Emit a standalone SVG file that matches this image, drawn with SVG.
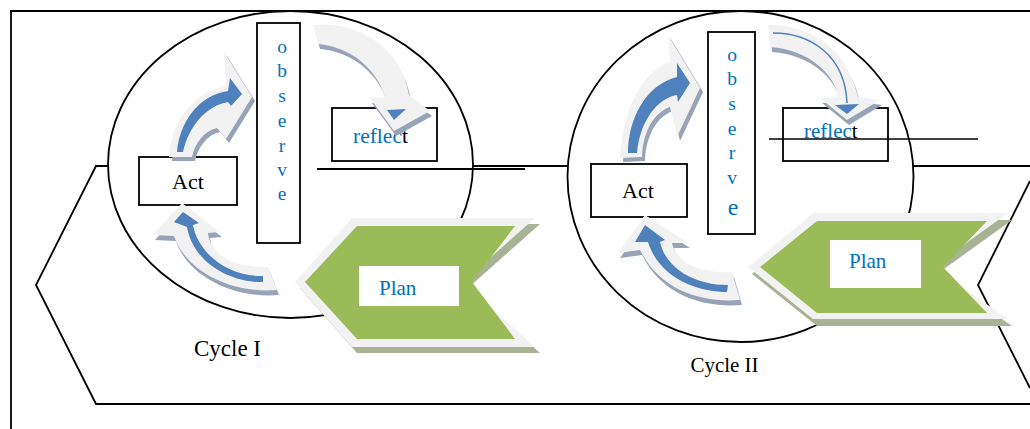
<svg xmlns="http://www.w3.org/2000/svg" xmlns:xlink="http://www.w3.org/1999/xlink" width="1030" height="429" viewBox="0 0 1030 429">
  <style>
    .ln { fill: none; stroke: #000; stroke-width: 1.8; }
    .thin { fill: none; stroke: #000; stroke-width: 1.5; }
    .ring { fill: #fff; stroke: #000; stroke-width: 1.8; }
    .box { fill: #fff; stroke: #000; stroke-width: 1.8; }
    .serif { font-family: "Liberation Serif", "Times New Roman", serif; }
    .blk { fill: #000; }
    .blu { fill: #0070c0; }
    .face { fill: #f2f2f2; }
    .shade { fill: #97a3b7; }
    .core { fill: #4f81bd; }
    .chev-shade { fill: #a8b294; }
    .chev-face { fill: #f2f2f2; }
    .chev-core { fill: #9bbb59; }
  </style>
  <defs>
    <!-- curved arrow outlines, cycle I -->
    <path id="a1" d="M169,157 C171,124 192,92 226,86 L224,52 L252,97 L226,139 L217,128 C204,131 195,143 192,157 Z"/>
    <path id="b1" d="M313,25 C352,21 400,42 409,95 L430,111 L394,131 L370,98 L385,97 C377,70 352,47 318,44 Z"/>
    <path id="c1" d="M268,267 L277,290 C230,294 185,270 174,236 L153,235 L182,203 L220,232 L208,233 C210,255 235,268 268,267 Z"/>
    <!-- curved arrow outlines, cycle II -->
    <path id="a2" d="M620,158 C622,115 640,72 670,62 L668,35 L700,88 L677,137 L670,107 C655,112 643,130 642,157 Z"/>
    <path id="b2" d="M768,25 C800,24 845,40 858,97 L880,100 L847,120 L820,98 L838,97 C835,75 810,50 770,47 Z"/>
    <path id="c2" d="M732,272 L740,300 C700,303 660,290 640,250 L618,253 L645,215 L688,243 L672,243 C676,262 700,274 732,272 Z"/>
  </defs>

  <!-- page frame -->
  <g id="frame">
    <line class="ln" x1="10" y1="11" x2="1030" y2="11"/>
    <line class="ln" x1="11" y1="10" x2="11" y2="429"/>
  </g>

  <!-- outer hexagonal band -->
  <g id="band">
    <polyline class="ln" points="1030,166 96,166 36,285 96,404 1030,404"/>
    <polyline class="ln" points="1030,181 978,285 1030,388"/>
  </g>

  <!-- cycle I -->
  <g id="cycle-1">
    <ellipse class="ring" cx="290.5" cy="164.5" rx="182.5" ry="153.5"/>
    <line class="ln" x1="317" y1="169" x2="525" y2="169"/>
  </g>

  <!-- cycle II -->
  <g id="cycle-2">
    <ellipse class="ring" cx="740.5" cy="176.5" rx="173" ry="165.5"/>
  </g>

  <g id="act-1">
    <rect class="box" x="139" y="157" width="98" height="48"/>
    <text class="serif blk" x="188" y="189" font-size="22" text-anchor="middle">Act</text>
  </g>
  <g id="observe-1">
    <rect class="box" x="257" y="23" width="43" height="220"/>
    <g class="serif blu" font-size="19.5" text-anchor="middle">
      <text x="282" y="53">o</text>
      <text x="282" y="77">b</text>
      <text x="282" y="102">s</text>
      <text x="282" y="127">e</text>
      <text x="282" y="152">r</text>
      <text x="282" y="176">v</text>
      <text x="282" y="200">e</text>
    </g>
  </g>
  <g id="reflect-1">
    <rect class="box" x="332" y="108" width="105" height="53"/>
    <text class="serif blu" x="353" y="143" font-size="21.5">reflec<tspan class="blk">t</tspan></text>
  </g>

  <g id="act-2">
    <rect class="box" x="591" y="164" width="96" height="53"/>
    <text class="serif blk" x="638" y="198" font-size="22" text-anchor="middle">Act</text>
  </g>
  <g id="observe-2">
    <rect class="box" x="708" y="32" width="47" height="202"/>
    <g class="serif blu" font-size="19.5" text-anchor="middle">
      <text x="732" y="61">o</text>
      <text x="732" y="85">b</text>
      <text x="732" y="110">s</text>
      <text x="732" y="135">e</text>
      <text x="732" y="159">r</text>
      <text x="732" y="184">v</text>
      <text x="733" y="215" font-size="24">e</text>
    </g>
  </g>
  <g id="reflect-2">
    <rect class="box" x="783" y="108" width="105" height="53"/>
    <text class="serif blu" x="804" y="138" font-size="21">reflec<tspan class="blk">t</tspan></text>
    <line class="thin" x1="769" y1="139" x2="978" y2="139"/>
  </g>

  <!-- cycle arrows -->
  <g id="connectors">
    <use href="#a1" class="shade" transform="translate(3,4)"/>
    <use href="#a1" class="face"/>
    <path class="core" d="M177,152 C180,120 200,95 228,91 L230,78 L242,94 L231,106 L228,102 C206,106 189,126 183,152 Z"/>

    <use href="#b1" class="shade" transform="translate(2,5)"/>
    <use href="#b1" class="face"/>
    <path class="core" d="M387,110 L406,109 L394,120 Z"/>

    <use href="#c1" class="shade" transform="translate(2,5)"/>
    <use href="#c1" class="face"/>
    <path class="core" d="M263,282 C230,283 193,262 187,227 L174,222 L183,212 L199,223 L193,225 C197,250 225,277 263,276 Z"/>

    <use href="#a2" class="shade" transform="translate(3,4)"/>
    <use href="#a2" class="face"/>
    <path class="core" d="M628,153 C628,120 645,85 677,77 L677,63 L690,83 L678,102 L677,95 C658,98 640,120 637,153 Z"/>

    <use href="#b2" class="shade" transform="translate(2,5)"/>
    <use href="#b2" class="face"/>
    <path d="M773,33 C810,33 845,55 847,103" fill="none" stroke="#4f81bd" stroke-width="1.5"/>
    <path class="core" d="M835,105 L859,104 L847,114 Z"/>

    <use href="#c2" class="shade" transform="translate(2,5)"/>
    <use href="#c2" class="face"/>
    <path class="core" d="M727,292 C700,292 660,280 648,242 L635,242 L645,225 L665,240 L660,242 C665,265 690,285 728,285 Z"/>
  </g>

  <!-- plan chevrons -->
  <g id="plan-1">
    <polygon class="chev-shade" points="357,224 540,224 468,288 540,353 357,353 300,288"/>
    <polygon class="chev-face" points="352,218 535,218 463,282 535,347 352,347 295,282"/>
    <polygon class="chev-core" points="357,226 515,226 472,282 515,339 357,339 305,282"/>
    <rect x="359" y="266" width="100" height="40" fill="#fff"/>
    <text class="serif blu" x="379" y="295" font-size="21">Plan</text>
  </g>
  <g id="plan-2">
    <polygon class="chev-shade" points="817,220 1012,220 937,274 1012,326 817,326 752,274"/>
    <polygon class="chev-face" points="813,213 1008,213 933,267 1008,319 813,319 748,267"/>
    <polygon class="chev-core" points="817,221 987,221 943,267 987,313 817,313 760,267"/>
    <rect x="830" y="240" width="91" height="48" fill="#fff"/>
    <text class="serif blu" x="849" y="268" font-size="21">Plan</text>
  </g>

  <!-- cycle captions -->
  <g id="label-cycle-1">
    <text class="serif blk" x="227.5" y="356" font-size="23" text-anchor="middle">Cycle I</text>
  </g>
  <g id="label-cycle-2">
    <text class="serif blk" x="724.5" y="372" font-size="21" text-anchor="middle">Cycle II</text>
  </g>
</svg>
